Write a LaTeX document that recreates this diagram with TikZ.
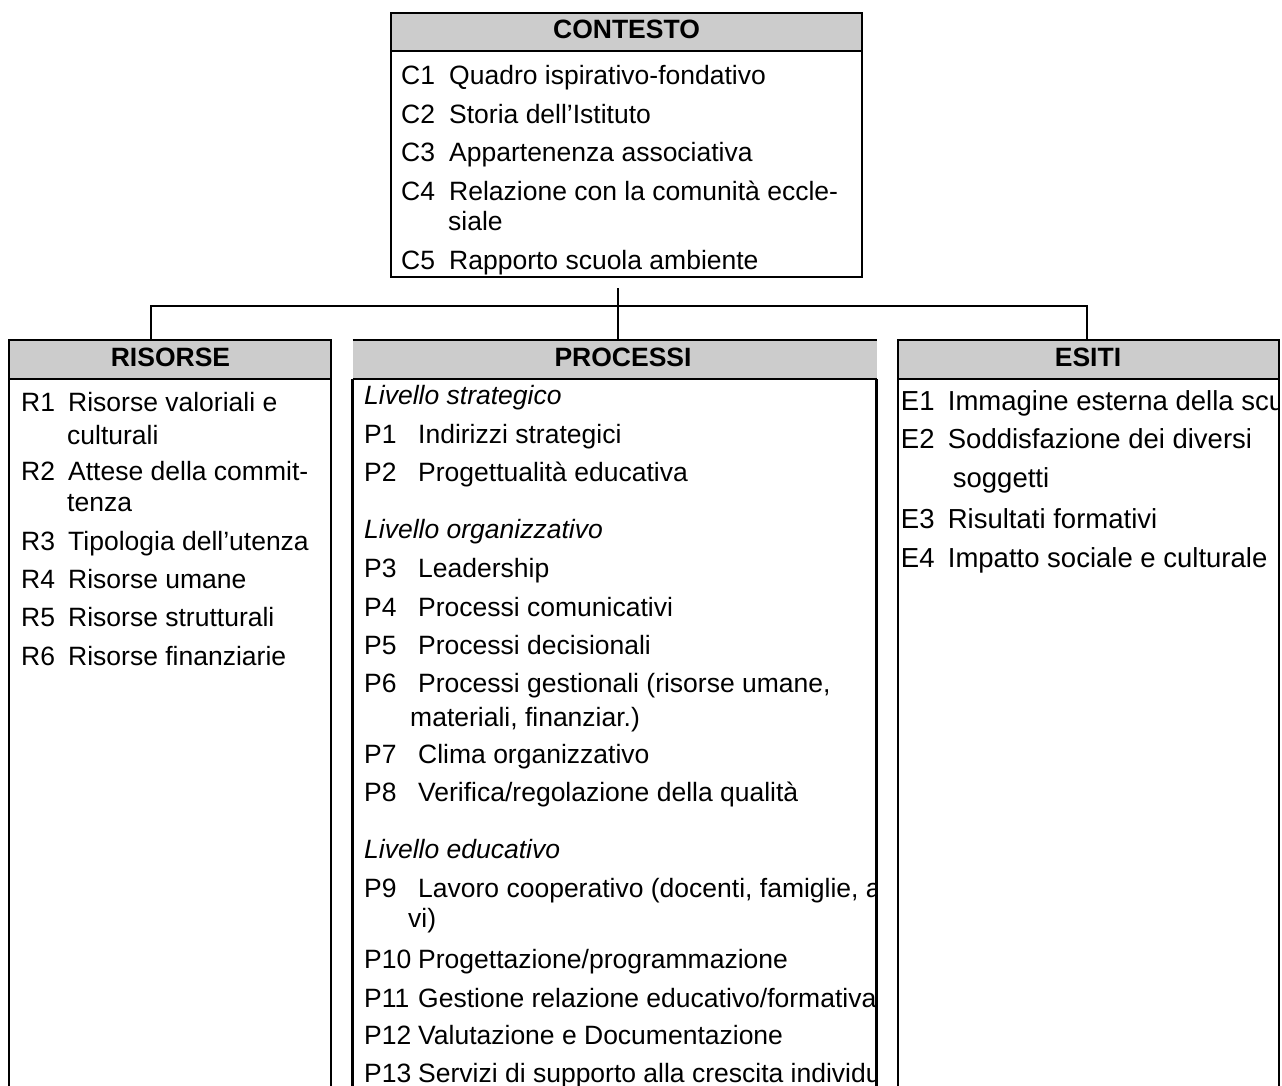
\documentclass[tikz,border=0pt]{standalone}
\usepackage{fontspec}
\setmainfont{Liberation Sans}
\definecolor{hdrgray}{HTML}{CCCCCC}
\begin{document}
\begin{tikzpicture}[x=1pt,y=-1pt,
  bline/.style={line width=2.4pt},
  conn/.style={line width=2pt},
  hdr/.style={fill=hdrgray, inner sep=0pt, outer sep=0pt},
  ttl/.style={font=\fontsize{26.5}{30}\selectfont\bfseries, inner sep=0pt, anchor=base},
  it/.style={font=\fontsize{26.5}{30}\selectfont, inner sep=0pt, anchor=base west},
  ite/.style={font=\fontsize{27.5}{31}\selectfont, inner sep=0pt, anchor=base west},
]
\clip (0,0) rectangle (1282,1086);

% ---------- CONTESTO ----------
\node[draw, bline, minimum width=471pt, minimum height=264pt, inner sep=0pt, outer sep=0pt] (ctx) at (626.5,145) {};
\node[hdr, draw, bline, minimum width=471pt, minimum height=38pt] (ctxH) at (626.5,32) {};
\node[ttl] (ctxT) at (626.5,38.5) {CONTESTO};
\node[it] (c1) at (401,85) {\makebox[48pt][l]{C1}Quadro ispirativo-fondativo};
\node[it] (c2) at (401,123.5) {\makebox[48pt][l]{C2}Storia dell’Istituto};
\node[it] (c3) at (401,162) {\makebox[48pt][l]{C3}Appartenenza associativa};
\node[it] (c4) at (401,200.5) {\makebox[48pt][l]{C4}Relazione con la comunità eccle-};
\node[it] (c4b) at (448,230.5) {siale};
\node[it] (c5) at (401,269) {\makebox[48pt][l]{C5}Rapporto scuola ambiente};

% ---------- headers ----------
\node[hdr, draw, bline, minimum width=322pt, minimum height=39pt] (risH) at (170,359.5) {};
\node[hdr, minimum width=524pt, minimum height=39pt] (proH) at (614.5,359.5) {};
\node[hdr, draw, bline, minimum width=381pt, minimum height=39pt] (esiH) at (1088.5,359.5) {};
\draw[bline] (proH.north west) -- (proH.north east);
\draw[bline] (proH.south west) -- (proH.south east);

\node[ttl] (risT) at (170.5,366) {RISORSE};
\node[ttl] (proT) at (623,366) {PROCESSI};
\node[ttl] (esiT) at (1088,366) {ESITI};

% body side lines
\draw[bline] (risH.south west) -- ++(0,800);
\draw[bline] (risH.south east) -- ++(0,800);
\draw[bline] (proH.south west) -- ++(0,800);
\draw[bline] (proH.south east) -- ++(0,800);
\draw[bline] (esiH.south west) -- ++(0,800);
\draw[bline] (esiH.south east) -- ++(0,800);

% ---------- connectors ----------
\coordinate (jtop) at (618,288);
\coordinate (jr) at (151,306);
\coordinate (jp) at (618,306);
\coordinate (je) at (1087,306);
\draw[conn] (jtop) -- (jp |- proH.north);
\draw[conn] (jr |- risH.north) -- (jr) -- (je) -- (je |- esiH.north);

% ---------- RISORSE items ----------
\node[it] (r1) at (21,411.7) {\makebox[47pt][l]{R1}Risorse valoriali e};
\node[it] (r1b) at (67,444.3) {culturali};
\node[it] (r2) at (21,480) {\makebox[47pt][l]{R2}Attese della commit-};
\node[it] (r2b) at (67,511) {tenza};
\node[it] (r3) at (21,550) {\makebox[47pt][l]{R3}Tipologia dell’utenza};
\node[it] (r4) at (21,588.3) {\makebox[47pt][l]{R4}Risorse umane};
\node[it] (r5) at (21,626.7) {\makebox[47pt][l]{R5}Risorse strutturali};
\node[it] (r6) at (21,665) {\makebox[47pt][l]{R6}Risorse finanziarie};

% ---------- PROCESSI items ----------
\begin{scope}
\clip (352.5,379) rectangle (874.5,1086);
\node[it] (ls1) at (364,404) {\itshape Livello strategico};
\node[it] (p1) at (364,443.3) {\makebox[54pt][l]{P1}Indirizzi strategici};
\node[it] (p2) at (364,481.7) {\makebox[54pt][l]{P2}Progettualità educativa};
\node[it] (ls2) at (364,538) {\itshape Livello organizzativo};
\node[it] (p3) at (364,577) {\makebox[54pt][l]{P3}Leadership};
\node[it] (p4) at (364,616) {\makebox[54pt][l]{P4}Processi comunicativi};
\node[it] (p5) at (364,654) {\makebox[54pt][l]{P5}Processi decisionali};
\node[it] (p6) at (364,692.7) {\makebox[54pt][l]{P6}Processi gestionali (risorse umane,};
\node[it] (p6b) at (410,726) {materiali, finanziar.)};
\node[it] (p7) at (364,763) {\makebox[54pt][l]{P7}Clima organizzativo};
\node[it] (p8) at (364,801) {\makebox[54pt][l]{P8}Verifica/regolazione della qualità};
\node[it] (ls3) at (364,858) {\itshape Livello educativo};
\node[it] (p9) at (364,897) {\makebox[54pt][l]{P9}Lavoro cooperativo (docenti, famiglie, allie-};
\node[it] (p9b) at (408,927) {vi)};
\node[it] (p10) at (364,968) {\makebox[54pt][l]{P10}Progettazione/programmazione};
\node[it] (p11) at (364,1007) {\makebox[54pt][l]{P11}Gestione relazione educativo/formativa};
\node[it] (p12) at (364,1044) {\makebox[54pt][l]{P12}Valutazione e Documentazione};
\node[it] (p13) at (364,1082) {\makebox[54pt][l]{P13}Servizi di supporto alla crescita individuale};
\end{scope}

% ---------- ESITI items ----------
\begin{scope}
\clip (898,379) rectangle (1277.8,1086);
\node[ite] (e1) at (900.7,410) {\makebox[47pt][l]{E1}Immagine esterna della scuola};
\node[ite] (e2) at (900.7,448.3) {\makebox[47pt][l]{E2}Soddisfazione dei diversi};
\node[ite] (e2b) at (952.7,487.3) {soggetti};
\node[ite] (e3) at (900.7,528) {\makebox[47pt][l]{E3}Risultati formativi};
\node[ite] (e4) at (900.7,567) {\makebox[47pt][l]{E4}Impatto sociale e culturale};
\end{scope}
\end{tikzpicture}
\end{document}
